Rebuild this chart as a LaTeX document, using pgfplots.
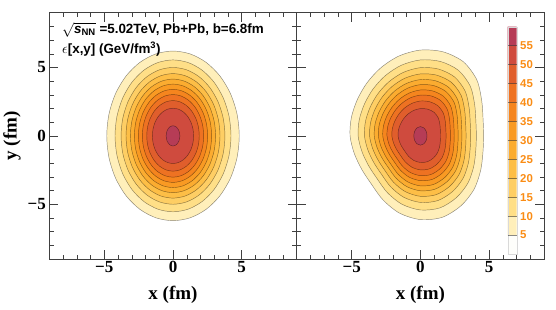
\documentclass[border=0pt]{standalone}
\usepackage{pgfplots}
\pgfplotsset{compat=1.18}
\usepackage{fontspec}
\setmainfont{Liberation Serif}
\setsansfont{Liberation Sans}
\definecolor{c0}{RGB}{254,254,251}
\definecolor{c1}{RGB}{255,239,186}
\definecolor{c2}{RGB}{255,223,135}
\definecolor{c3}{RGB}{254,206,100}
\definecolor{c4}{RGB}{253,190,70}
\definecolor{c5}{RGB}{251,172,48}
\definecolor{c6}{RGB}{249,154,35}
\definecolor{c7}{RGB}{245,133,30}
\definecolor{c8}{RGB}{238,114,34}
\definecolor{c9}{RGB}{224,94,44}
\definecolor{c10}{RGB}{207,75,62}
\definecolor{c11}{RGB}{182,60,86}
\definecolor{lab}{RGB}{250,140,20}
\begin{document}
\begin{tikzpicture}
\useasboundingbox (-49.3pt,-50pt) rectangle (506.7pt,259pt);
\pgfplotsset{
  panel/.style={
    scale only axis, width=247.4pt, height=246.3pt,
    anchor=south west,
    xmin=-9, xmax=9, ymin=-9, ymax=9,
    xtick={-5,0,5}, ytick={-5,0,5},
    minor xtick={-8,...,8}, minor ytick={-8,...,8},
    major tick length=9pt, minor tick length=4.5pt,
    tick align=inside, xtick pos=both, ytick pos=both,
    tick style={black!75, line width=0.5pt},
    axis line style={black!75, line width=0.6pt},
    every tick label/.append style={font=\fontsize{17}{19}\selectfont\bfseries},
    xticklabel style={yshift=1pt},
    xticklabels={−5,0,5},
    xlabel={x (fm)},
    every axis label/.append style={font=\fontsize{19}{21}\selectfont\bfseries},
    xlabel style={at={(axis description cs:0.5,-0.146)}, anchor=center},
  },
  lev/.style={fill=#1, draw=black, draw opacity=0.45, line width=0.45pt, smooth cycle, tension=0.5},
}
% ---------------- left panel
\begin{axis}[panel, at={(0pt,0pt)},
  yticklabels={−5,0,5},
  ylabel={y (fm)},
  ylabel style={at={(axis description cs:-0.151,0.5)}, anchor=center},
]
\addplot[lev=c1] coordinates {(4.82,0) (4.656,1.605) (4.174,3.1) (3.408,4.384) (2.41,5.369) (1.247,5.989) (0,6.2) (-1.247,5.989) (-2.41,5.369) (-3.408,4.384) (-4.174,3.1) (-4.656,1.605) (-4.82,0) (-4.656,-1.605) (-4.174,-3.1) (-3.408,-4.384) (-2.41,-5.369) (-1.247,-5.989) (0,-6.2) (1.247,-5.989) (2.41,-5.369) (3.408,-4.384) (4.174,-3.1) (4.656,-1.605)};
\addplot[lev=c2] coordinates {(4.22,0) (4.076,1.436) (3.655,2.775) (2.984,3.924) (2.11,4.806) (1.092,5.361) (0,5.55) (-1.092,5.361) (-2.11,4.806) (-2.984,3.924) (-3.655,2.775) (-4.076,1.436) (-4.22,0) (-4.076,-1.436) (-3.655,-2.775) (-2.984,-3.924) (-2.11,-4.806) (-1.092,-5.361) (0,-5.55) (1.092,-5.361) (2.11,-4.806) (2.984,-3.924) (3.655,-2.775) (4.076,-1.436)};
\addplot[lev=c3] coordinates {(3.78,0) (3.651,1.294) (3.273,2.5) (2.673,3.536) (1.89,4.33) (0.978,4.83) (0,5.0) (-0.978,4.83) (-1.89,4.33) (-2.673,3.536) (-3.273,2.5) (-3.651,1.294) (-3.78,0) (-3.651,-1.294) (-3.273,-2.5) (-2.673,-3.536) (-1.89,-4.33) (-0.978,-4.83) (0,-5.0) (0.978,-4.83) (1.89,-4.33) (2.673,-3.536) (3.273,-2.5) (3.651,-1.294)};
\addplot[lev=c4] coordinates {(3.42,0) (3.303,1.178) (2.962,2.275) (2.418,3.217) (1.71,3.94) (0.885,4.395) (0,4.55) (-0.885,4.395) (-1.71,3.94) (-2.418,3.217) (-2.962,2.275) (-3.303,1.178) (-3.42,0) (-3.303,-1.178) (-2.962,-2.275) (-2.418,-3.217) (-1.71,-3.94) (-0.885,-4.395) (0,-4.55) (0.885,-4.395) (1.71,-3.94) (2.418,-3.217) (2.962,-2.275) (3.303,-1.178)};
\addplot[lev=c5] coordinates {(3.1,0) (2.994,1.074) (2.685,2.075) (2.192,2.934) (1.55,3.594) (0.802,4.008) (0,4.15) (-0.802,4.008) (-1.55,3.594) (-2.192,2.934) (-2.685,2.075) (-2.994,1.074) (-3.1,0) (-2.994,-1.074) (-2.685,-2.075) (-2.192,-2.934) (-1.55,-3.594) (-0.802,-4.008) (0,-4.15) (0.802,-4.008) (1.55,-3.594) (2.192,-2.934) (2.685,-2.075) (2.994,-1.074)};
\addplot[lev=c6] coordinates {(2.81,0) (2.714,0.978) (2.433,1.89) (1.987,2.673) (1.405,3.273) (0.727,3.651) (0,3.78) (-0.727,3.651) (-1.405,3.273) (-1.987,2.673) (-2.433,1.89) (-2.714,0.978) (-2.81,0) (-2.714,-0.978) (-2.433,-1.89) (-1.987,-2.673) (-1.405,-3.273) (-0.727,-3.651) (0,-3.78) (0.727,-3.651) (1.405,-3.273) (1.987,-2.673) (2.433,-1.89) (2.714,-0.978)};
\addplot[lev=c7] coordinates {(2.52,0) (2.434,0.88) (2.182,1.7) (1.782,2.404) (1.26,2.944) (0.652,3.284) (0,3.4) (-0.652,3.284) (-1.26,2.944) (-1.782,2.404) (-2.182,1.7) (-2.434,0.88) (-2.52,0) (-2.434,-0.88) (-2.182,-1.7) (-1.782,-2.404) (-1.26,-2.944) (-0.652,-3.284) (0,-3.4) (0.652,-3.284) (1.26,-2.944) (1.782,-2.404) (2.182,-1.7) (2.434,-0.88)};
\addplot[lev=c8] coordinates {(2.23,0) (2.154,0.782) (1.931,1.51) (1.577,2.135) (1.115,2.615) (0.577,2.917) (0,3.02) (-0.577,2.917) (-1.115,2.615) (-1.577,2.135) (-1.931,1.51) (-2.154,0.782) (-2.23,0) (-2.154,-0.782) (-1.931,-1.51) (-1.577,-2.135) (-1.115,-2.615) (-0.577,-2.917) (0,-3.02) (0.577,-2.917) (1.115,-2.615) (1.577,-2.135) (1.931,-1.51) (2.154,-0.782)};
\addplot[lev=c9] coordinates {(1.91,0) (1.845,0.668) (1.654,1.29) (1.351,1.824) (0.955,2.234) (0.494,2.492) (0,2.58) (-0.494,2.492) (-0.955,2.234) (-1.351,1.824) (-1.654,1.29) (-1.845,0.668) (-1.91,0) (-1.845,-0.668) (-1.654,-1.29) (-1.351,-1.824) (-0.955,-2.234) (-0.494,-2.492) (0,-2.58) (0.494,-2.492) (0.955,-2.234) (1.351,-1.824) (1.654,-1.29) (1.845,-0.668)};
\addplot[lev=c10] coordinates {(1.5,0) (1.449,0.523) (1.299,1.01) (1.061,1.428) (0.75,1.749) (0.388,1.951) (0,2.02) (-0.388,1.951) (-0.75,1.749) (-1.061,1.428) (-1.299,1.01) (-1.449,0.523) (-1.5,0) (-1.449,-0.523) (-1.299,-1.01) (-1.061,-1.428) (-0.75,-1.749) (-0.388,-1.951) (0,-2.02) (0.388,-1.951) (0.75,-1.749) (1.061,-1.428) (1.299,-1.01) (1.449,-0.523)};
\addplot[lev=c11] coordinates {(0.5,0) (0.433,0.37) (0.25,0.641) (0,0.74) (-0.25,0.641) (-0.433,0.37) (-0.5,0) (-0.433,-0.37) (-0.25,-0.641) (0,-0.74) (0.25,-0.641) (0.433,-0.37)};
\node[anchor=base west, inner sep=0pt, font=\fontsize{13.4}{15}\sffamily\bfseries] at (axis cs:-8.08,7.49) {$\sqrt{\mbox{\itshape s}_{\mbox{\fontsize{9.5}{10}\selectfont NN}}}$ =5.02TeV, Pb+Pb, b=6.8fm};
\node[anchor=base west, inner sep=0pt, font=\fontsize{13.4}{15}\sffamily\bfseries] at (axis cs:-8.08,6.03) {\fontsize{15}{15}\selectfont$\epsilon$\fontsize{13.4}{15}\selectfont[x,y] (GeV/fm\textsuperscript{3})};
\end{axis}
% ---------------- right panel
\begin{axis}[panel, at={(247.4pt,0pt)}, yticklabels={}]
\addplot[lev=c1, data cs=polar] coordinates {(0,4.60) (15,4.72) (30,5.15) (45,5.80) (60,6.25) (75,6.36) (90,6.27) (105,6.04) (120,5.75) (135,5.49) (150,5.30) (165,5.20) (180,5.12) (195,4.98) (210,4.92) (225,5.02) (240,5.42) (255,5.85) (270,6.12) (285,6.16) (300,5.90) (315,5.52) (330,5.06) (345,4.71)};
\addplot[lev=c2, data cs=polar] coordinates {(0,4.071) (15,4.177) (30,4.558) (45,5.133) (60,5.531) (75,5.629) (90,5.549) (105,5.345) (120,5.089) (135,4.859) (150,4.691) (165,4.602) (180,4.531) (195,4.407) (210,4.354) (225,4.443) (240,4.797) (255,5.177) (270,5.416) (285,5.452) (300,5.222) (315,4.885) (330,4.478) (345,4.168)};
\addplot[lev=c3, data cs=polar] coordinates {(0,3.657) (15,3.752) (30,4.094) (45,4.611) (60,4.969) (75,5.056) (90,4.985) (105,4.802) (120,4.571) (135,4.365) (150,4.214) (165,4.134) (180,4.070) (195,3.959) (210,3.911) (225,3.991) (240,4.309) (255,4.651) (270,4.865) (285,4.897) (300,4.691) (315,4.388) (330,4.023) (345,3.744)};
\addplot[lev=c4, data cs=polar] coordinates {(0,3.321) (15,3.408) (30,3.718) (45,4.188) (60,4.513) (75,4.592) (90,4.527) (105,4.361) (120,4.152) (135,3.964) (150,3.827) (165,3.754) (180,3.697) (195,3.596) (210,3.552) (225,3.624) (240,3.913) (255,4.224) (270,4.419) (285,4.448) (300,4.260) (315,3.985) (330,3.653) (345,3.401)};
\addplot[lev=c5, data cs=polar] coordinates {(0,3.018) (15,3.096) (30,3.378) (45,3.805) (60,4.100) (75,4.172) (90,4.113) (105,3.962) (120,3.772) (135,3.601) (150,3.477) (165,3.411) (180,3.359) (195,3.267) (210,3.228) (225,3.293) (240,3.556) (255,3.838) (270,4.015) (285,4.041) (300,3.870) (315,3.621) (330,3.319) (345,3.090)};
\addplot[lev=c6, data cs=polar] coordinates {(0,2.746) (15,2.818) (30,3.075) (45,3.463) (60,3.731) (75,3.797) (90,3.743) (105,3.606) (120,3.433) (135,3.278) (150,3.164) (165,3.104) (180,3.057) (195,2.973) (210,2.937) (225,2.997) (240,3.236) (255,3.492) (270,3.654) (285,3.678) (300,3.522) (315,3.295) (330,3.021) (345,2.812)};
\addplot[lev=c7, data cs=polar] coordinates {(0,2.461) (15,2.525) (30,2.755) (45,3.103) (60,3.344) (75,3.403) (90,3.354) (105,3.231) (120,3.076) (135,2.937) (150,2.836) (165,2.782) (180,2.739) (195,2.664) (210,2.632) (225,2.686) (240,2.900) (255,3.130) (270,3.274) (285,3.296) (300,3.157) (315,2.953) (330,2.707) (345,2.520)};
\addplot[lev=c8, data cs=polar] coordinates {(0,2.185) (15,2.242) (30,2.446) (45,2.755) (60,2.969) (75,3.021) (90,2.978) (105,2.869) (120,2.731) (135,2.608) (150,2.518) (165,2.470) (180,2.432) (195,2.366) (210,2.337) (225,2.385) (240,2.575) (255,2.779) (270,2.907) (285,2.926) (300,2.803) (315,2.622) (330,2.404) (345,2.237)};
\addplot[lev=c9, data cs=polar] coordinates {(0,1.868) (15,1.916) (30,2.091) (45,2.355) (60,2.538) (75,2.582) (90,2.546) (105,2.452) (120,2.335) (135,2.229) (150,2.152) (165,2.111) (180,2.079) (195,2.022) (210,1.998) (225,2.038) (240,2.201) (255,2.375) (270,2.485) (285,2.501) (300,2.395) (315,2.241) (330,2.054) (345,1.912)};
\addplot[lev=c10, data cs=polar] coordinates {(0,1.463) (15,1.501) (30,1.638) (45,1.844) (60,1.988) (75,2.022) (90,1.994) (105,1.921) (120,1.829) (135,1.746) (150,1.685) (165,1.654) (180,1.628) (195,1.584) (210,1.565) (225,1.596) (240,1.724) (255,1.860) (270,1.946) (285,1.959) (300,1.876) (315,1.755) (330,1.609) (345,1.498)};
\addplot[lev=c11] coordinates {(0.48,0) (0.416,0.34) (0.24,0.589) (0,0.68) (-0.24,0.589) (-0.416,0.34) (-0.48,0) (-0.416,-0.34) (-0.24,-0.589) (0,-0.68) (0.24,-0.589) (0.416,-0.34)};
\end{axis}
% ---------------- colour bar
\begin{axis}[scale only axis, at={(458.4pt,5pt)}, anchor=south west,
  width=9pt, height=227.3pt, xmin=0, xmax=1, ymin=0, ymax=60,
  axis line style={draw=none}, xtick=\empty,
  ytick={5,10,...,55}, yticklabel pos=right, major tick length=0pt,
  ytick style={draw=none},
  yticklabel style={text=lab, font=\fontsize{11.4}{12}\sffamily\bfseries},
  /pgf/number format/assume math mode=true, clip=false]
\addplot[fill=c0, draw=none] coordinates {(0,0) (1,0) (1,5) (0,5) (0,0)};
\addplot[fill=c1, draw=none] coordinates {(0,5) (1,5) (1,10) (0,10) (0,5)};
\addplot[fill=c2, draw=none] coordinates {(0,10) (1,10) (1,15) (0,15) (0,10)};
\addplot[fill=c3, draw=none] coordinates {(0,15) (1,15) (1,20) (0,20) (0,15)};
\addplot[fill=c4, draw=none] coordinates {(0,20) (1,20) (1,25) (0,25) (0,20)};
\addplot[fill=c5, draw=none] coordinates {(0,25) (1,25) (1,30) (0,30) (0,25)};
\addplot[fill=c6, draw=none] coordinates {(0,30) (1,30) (1,35) (0,35) (0,30)};
\addplot[fill=c7, draw=none] coordinates {(0,35) (1,35) (1,40) (0,40) (0,35)};
\addplot[fill=c8, draw=none] coordinates {(0,40) (1,40) (1,45) (0,45) (0,40)};
\addplot[fill=c9, draw=none] coordinates {(0,45) (1,45) (1,50) (0,50) (0,45)};
\addplot[fill=c10, draw=none] coordinates {(0,50) (1,50) (1,55) (0,55) (0,50)};
\addplot[fill=c11, draw=none] coordinates {(0,55) (1,55) (1,60) (0,60) (0,55)};
\addplot[draw=black!15, line width=0.4pt] coordinates {(0,0) (1,0) (1,60) (0,60) (0,0)};
\addplot[draw=black, draw opacity=0.45, line width=0.5pt, unbounded coords=jump] coordinates {(0,5) (1,5) (0,nan) (0,10) (1,10) (0,nan) (0,15) (1,15) (0,nan) (0,20) (1,20) (0,nan) (0,25) (1,25) (0,nan) (0,30) (1,30) (0,nan) (0,35) (1,35) (0,nan) (0,40) (1,40) (0,nan) (0,45) (1,45) (0,nan) (0,50) (1,50) (0,nan) (0,55) (1,55)};
\end{axis}
\end{tikzpicture}
\end{document}
